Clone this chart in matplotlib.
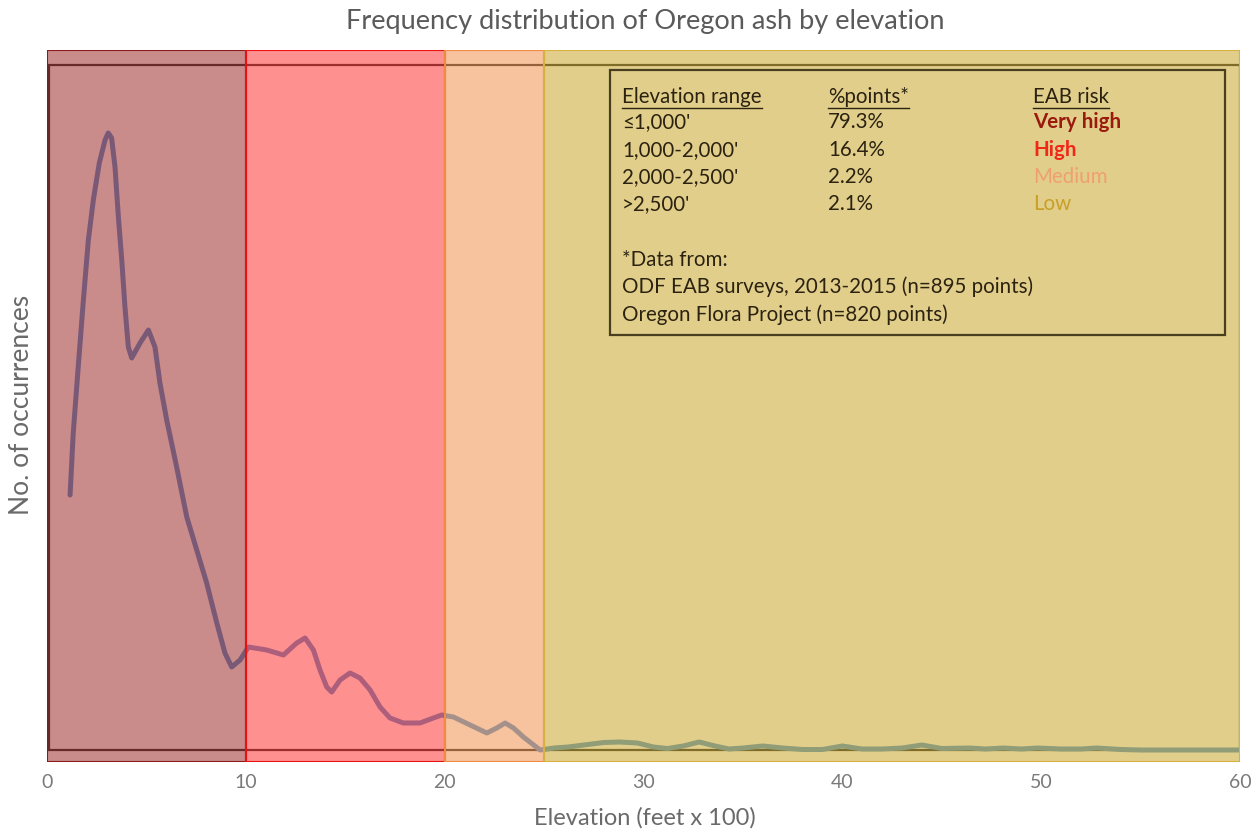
import matplotlib
matplotlib.use("Agg")
import matplotlib.pyplot as plt
from matplotlib.patches import Rectangle
from matplotlib.lines import Line2D

plt.rcParams['font.family'] = ['Lato', 'DejaVu Sans']

# ---- data (elevation in feet x 100, relative number of occurrences) ----
elev = [1.16, 1.32, 1.57, 1.83, 2.08, 2.33, 2.63, 2.92, 3.08, 3.25, 3.42, 3.59,
        3.76, 3.92, 4.09, 4.26, 4.68, 5.10, 5.43, 5.68, 6.02, 6.52, 7.03, 7.53,
        8.03, 8.54, 8.95, 9.29, 9.71, 10.13, 11.05, 11.89, 12.56, 12.98, 13.40,
        13.73, 14.07, 14.32, 14.74, 15.24, 15.74, 16.25, 16.75, 17.25, 17.92,
        18.76, 19.43, 19.85, 20.44, 21.28, 22.12, 22.62, 23.04, 23.46, 23.96,
        24.80,
        25.5, 26.2, 27.0, 28.0, 28.8, 29.7, 30.5, 31.2, 32.0, 32.8, 33.6, 34.3,
        35.0, 36.0, 37.0, 38.0, 39.0, 40.0, 41.0, 42.0, 43.0, 44.0, 45.0, 46.4,
        47.2, 48.1, 49.0, 49.8, 51.0, 52.0, 52.8, 54.0, 55.0, 60.0]
occurrences = [255, 317, 383, 450, 510, 550, 587, 610, 617, 612, 583, 533,
               490, 443, 403, 392, 407, 420, 403, 367, 330, 283, 233, 200,
               167, 127, 97, 83, 90, 103, 100, 95, 107, 112, 100,
               80, 63, 58, 70, 77, 72, 60, 43, 32, 27,
               27, 32, 35, 33, 25, 17, 22, 27, 22, 13,
               0,
               2, 3, 5, 7.5, 8, 7, 3, 1.5, 4, 8, 4, 1,
               2, 4, 2, 0.5, 0.5, 4, 1, 1, 2, 5, 1.5, 2,
               1, 2, 1, 2, 1, 1, 2, 0.5, 0, 0]

band_edges = [0, 10, 20, 25, 60]
band_face = ['#971919', '#ff2323', '#f18941', '#c59f19']
band_edge = ['#8b1a1a', '#e81010', '#f08a40', '#d8b040']

table_header = ['Elevation range', '%points*', 'EAB risk']
ranges = ["≤1,000'", "1,000-2,000'", "2,000-2,500'", ">2,500'"]
percents = ['79.3%', '16.4%', '2.2%', '2.1%']
risks = ['Very high', 'High', 'Medium', 'Low']
risk_colors = ['#9a1a0e', '#f02818', '#f0a070', '#c8a028']
risk_weights = ['bold', 'bold', 'normal', 'normal']
notes = ['*Data from:', 'ODF EAB surveys, 2013-2015 (n=895 points)',
         'Oregon Flora Project (n=820 points)']
xticks = [0, 10, 20, 30, 40, 50, 60]

W, H = 1260, 833
fig = plt.figure(figsize=(W / 100, H / 100), dpi=100)
fig.patch.set_facecolor('white')


def fx(px):
    return px / W


def fy(py):
    return 1 - py / H


ax = fig.add_axes([fx(47), fy(762), fx(1240) - fx(47), fy(50) - fy(762)])
ax.set_xlim(0, 60)
ax.set_ylim(-12, 700)
for s in ax.spines.values():
    s.set_visible(False)
ax.set_yticks([])
ax.set_xticks(xticks)
ax.set_xticklabels([str(t) for t in xticks])
ax.tick_params(axis='x', length=0, pad=9, labelsize=14, labelcolor='#7a7a7a')
ax.set_facecolor('white')

# inner plot-area frame
ax.add_patch(Rectangle((0.1, 0), 59.9, 685, fill=False, edgecolor='#3a3a3a',
                       lw=1.6, zorder=1))

# curve
ax.plot(elev, occurrences, color='#5b9bd5', lw=3.6, solid_joinstyle='round',
        solid_capstyle='round', zorder=2)

# risk bands overlayed
for i in range(4):
    x0, x1 = band_edges[i], band_edges[i + 1]
    ax.add_patch(Rectangle((x0, -12), x1 - x0, 712, facecolor=band_face[i],
                           alpha=0.5, edgecolor='none', zorder=3))
    ax.add_patch(Rectangle((x0, -12), x1 - x0, 712, fill=False,
                           edgecolor=band_edge[i], lw=1.5, zorder=4))

# title and axis labels
fig.text(fx(645), fy(22), 'Frequency distribution of Oregon ash by elevation',
         ha='center', va='center', fontsize=19.5, color='#5a5a5a')
fig.text(fx(645), fy(818), 'Elevation (feet x 100)', ha='center', va='center',
         fontsize=17, color='#6a6a6a')
fig.text(fx(22), fy(405), 'No. of occurrences', ha='center', va='center',
         rotation=90, fontsize=19, color='#6a6a6a')

# info box
fig.patches.append(Rectangle((fx(610), fy(335)), fx(1225) - fx(610),
                             fy(70) - fy(335), transform=fig.transFigure,
                             fill=False, edgecolor='#4a3e20', lw=1.6, zorder=5))

txtc = '#2b2210'
fs = 14.8
cols = [622, 828, 1033]
head_objs = []
for c, t in zip(cols, table_header):
    head_objs.append(fig.text(fx(c), fy(97), t, ha='left', va='center',
                              fontsize=fs, color=txtc, zorder=6))
rows_y = [122, 150, 177, 204]
for i, yy in enumerate(rows_y):
    fig.text(fx(cols[0]), fy(yy), ranges[i], ha='left', va='center',
             fontsize=fs, color=txtc, zorder=6)
    fig.text(fx(cols[1]), fy(yy), percents[i], ha='left', va='center',
             fontsize=fs, color=txtc, zorder=6)
    fig.text(fx(cols[2]), fy(yy), risks[i], ha='left', va='center',
             fontsize=fs, color=risk_colors[i], fontweight=risk_weights[i],
             zorder=6)
for yy, t in zip([260, 287, 315], notes):
    fig.text(fx(cols[0]), fy(yy), t, ha='left', va='center', fontsize=fs,
             color=txtc, zorder=6)

# underline headers
fig.canvas.draw()
r = fig.canvas.get_renderer()
for t in head_objs:
    bb = t.get_window_extent(r)
    yline = bb.y0 - 1
    fig.lines.append(Line2D([bb.x0 / W, bb.x1 / W], [yline / H, yline / H],
                            transform=fig.transFigure, color=txtc, lw=1.0))

fig.savefig('out.png', dpi=100, facecolor='white')
